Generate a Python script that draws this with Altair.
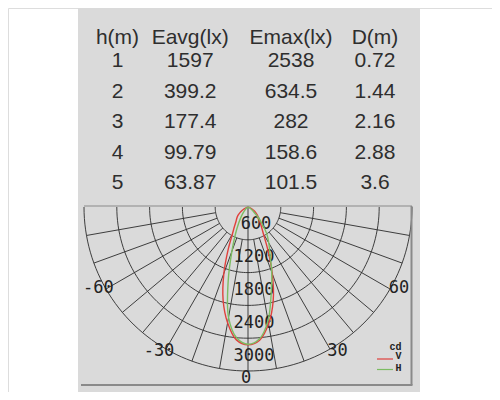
import altair as alt
import pandas as pd
import numpy as np

# ---------------- data ----------------
headers = ["h(m)", "Eavg(lx)", "Emax(lx)", "D(m)"]
h_vals = ["1", "2", "3", "4", "5"]
eavg = ["1597", "399.2", "177.4", "99.79", "63.87"]
emax = ["2538", "634.5", "282", "158.6", "101.5"]
dist = ["0.72", "1.44", "2.16", "2.88", "3.6"]

angles = list(range(-90, 95, 5))
v_cd = [0, 5, 10, 20, 40, 70, 120, 180, 240, 290, 340, 430, 570, 860, 1290, 1760,
        2150, 2440, 2520,
        2445, 2170, 1780, 1300, 850, 560, 420, 330, 270, 220, 170, 110, 70, 40, 20, 10, 5, 0]
h_cd = [0, 0, 2, 5, 10, 15, 20, 30, 50, 80, 130, 220, 340, 540, 860, 1400,
        2050, 2400, 2510,
        2420, 2110, 1640, 1270, 950, 760, 600, 400, 240, 130, 80, 45, 25, 12, 6, 3, 1, 0]

rings = [600, 1200, 1800, 2400, 3000]
ring_labels = ["600", "1200", "1800", "2400", "3000"]
spokes = list(range(-80, 90, 10))
angle_labels = [-60, -30, 0, 30, 60]

# ---------------- layout constants ----------------
W, H = 484, 384
CX, CY = 240, 199          # polar centre in plot pixels
R_PX = 164                 # outer ring radius in pixels
RMAX = 3000
k = R_PX / RMAX
xdom = [-CX / k, (W - CX) / k]
ydom = [-CY / k, (H - CY) / k]

GRID = "#2b2b2b"
TXT = "#2e2e2e"
FRAME = "#8a8a8a"
BG = "#dadada"


def pol(r, a):
    t = np.radians(a)
    return r * np.sin(t), r * np.cos(t)


X = lambda f="X": alt.X(f"{f}:Q", scale=alt.Scale(domain=xdom, nice=False, zero=False), axis=None)
Y = lambda f="Y": alt.Y(f"{f}:Q", scale=alt.Scale(domain=ydom, reverse=True, nice=False, zero=False), axis=None)

one = pd.DataFrame({"a": [0]})

# background panel
bg = alt.Chart(one).mark_rect(color=BG).encode(
    x=alt.value(70), x2=alt.value(412), y=alt.value(0), y2=alt.value(H))

# ---------------- table ----------------
col_x = [109.5, 182.2, 283, 367]
cols = [h_vals, eavg, emax, dist]
table_layers = []
for cx, head, vals in zip(col_x, headers, cols):
    table_layers.append(
        alt.Chart(one).mark_text(text=head, font="Liberation Sans", fontSize=21,
                                 color=TXT, align="center", baseline="middle")
        .encode(x=alt.value(cx), y=alt.value(30.3)))
    df = pd.DataFrame({"row": [1, 2, 3, 4, 5], "label": vals})
    table_layers.append(
        alt.Chart(df).mark_text(font="Liberation Sans", fontSize=21, color=TXT,
                                align="center", baseline="middle")
        .encode(x=alt.value(cx),
                y=alt.Y("row:Q", scale=alt.Scale(domain=[1, 5], range=[53.3, 175]), axis=None),
                text="label:N"))
table = alt.layer(*table_layers)

# ---------------- polar grid ----------------
rows = []
for r in rings:
    for a in range(-90, 91, 2):
        x, y = pol(r, a)
        rows.append({"ring": r, "ang": a, "X": x, "Y": y})
ring_df = pd.DataFrame(rows)
ring_layer = alt.Chart(ring_df).mark_line(color=GRID, strokeWidth=0.9).encode(
    x=X(), y=Y(), detail="ring:N", order="ang:Q")

rows = []
for a in spokes:
    r0 = 0 if a == 0 else rings[0]
    for i, r in enumerate([r0, RMAX]):
        x, y = pol(r, a)
        rows.append({"sp": a, "i": i, "X": x, "Y": y})
spoke_df = pd.DataFrame(rows)
spoke_layer = alt.Chart(spoke_df).mark_line(color=GRID, strokeWidth=0.9).encode(
    x=X(), y=Y(), detail="sp:N", order="i:Q")

# ring labels
rl_df = pd.DataFrame({"X": [0] * len(rings), "Y": rings, "label": ring_labels})
rl_main = alt.Chart(rl_df[rl_df.label != "600"]).mark_text(
    font="DejaVu Sans Mono", fontSize=17, color="#222", dx=6, dy=-15.5,
    align="center", baseline="middle").encode(x=X(), y=Y(), text="label:N")
rl_600 = alt.Chart(rl_df[rl_df.label == "600"]).mark_text(
    font="DejaVu Sans Mono", fontSize=17, color="#222", dx=8, dy=-15.5,
    align="center", baseline="middle").encode(x=X(), y=Y(), text="label:N")

# angle labels
al_off = {-60: (-7.5, -1), -30: (-7, 2), 0: (-2, 7), 30: (7.5, 2), 60: (9, -1)}
al_layers = []
for a in angle_labels:
    x, y = pol(RMAX, a)
    d = pd.DataFrame({"X": [x], "Y": [y], "label": [str(a)]})
    al_layers.append(alt.Chart(d).mark_text(
        font="DejaVu Sans Mono", fontSize=17, color="#222", dx=al_off[a][0], dy=al_off[a][1],
        align="center", baseline="middle").encode(x=X(), y=Y(), text="label:N"))

# curves
rows = []
for name, vals in [("V", v_cd), ("H", h_cd)]:
    for a, r in zip(angles, vals):
        x, y = pol(r, a)
        rows.append({"series": name, "ang": a, "X": x, "Y": y})
curve_df = pd.DataFrame(rows)
curves = alt.Chart(curve_df).mark_line(strokeWidth=1.4, interpolate="catmull-rom").encode(
    x=X(), y=Y(), order="ang:Q",
    color=alt.Color("series:N", scale=alt.Scale(domain=["V", "H"], range=["#e0403c", "#7cbc62"]),
                    legend=None),
    detail="series:N")

polar = alt.layer(ring_layer, spoke_layer, rl_main, rl_600, *al_layers, curves)

# frame
frame = [
    alt.Chart(one).mark_rule(color=FRAME, strokeWidth=1.2).encode(
        x=alt.value(76), x2=alt.value(404), y=alt.value(198)),
    alt.Chart(one).mark_rule(color=FRAME, strokeWidth=2).encode(
        x=alt.value(403.5), y=alt.value(198), y2=alt.value(377)),
    alt.Chart(one).mark_rule(color=FRAME, strokeWidth=2).encode(
        x=alt.value(73), x2=alt.value(404.5), y=alt.value(377)),
]

# legend
LF = dict(font="Liberation Mono", fontWeight="bold", fontSize=10, color="#222",
          align="center", baseline="middle")
leg = [
    alt.Chart(one).mark_text(text="cd", **LF).encode(x=alt.value(387.5), y=alt.value(338.5)),
    alt.Chart(one).mark_text(text="V", **LF).encode(x=alt.value(390.5), y=alt.value(348)),
    alt.Chart(one).mark_text(text="H", **LF).encode(x=alt.value(390.5), y=alt.value(359.5)),
    alt.Chart(one).mark_rule(color="#e0403c", strokeWidth=1.2).encode(
        x=alt.value(369), x2=alt.value(385), y=alt.value(351)),
    alt.Chart(one).mark_rule(color="#7cbc62", strokeWidth=1.2).encode(
        x=alt.value(369), x2=alt.value(385), y=alt.value(361.5)),
]

chart = alt.layer(bg, table, polar, *frame, *leg).resolve_scale(
    x="independent", y="independent").properties(
    width=W, height=H, padding=0, autosize=alt.AutoSizeParams(type="none")
).configure_view(stroke=None).configure(background="white")

chart.save("out.html", embed_options={"renderer": "svg", "actions": False})
